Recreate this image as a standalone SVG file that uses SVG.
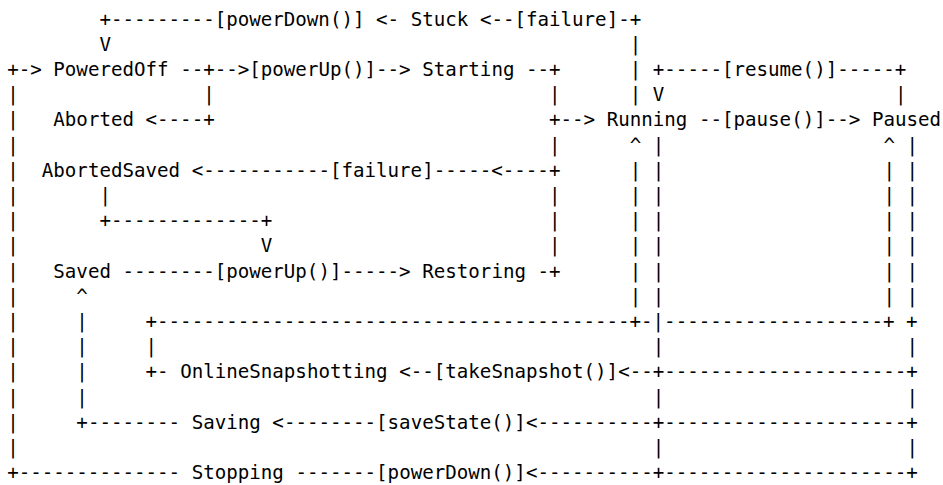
<svg xmlns="http://www.w3.org/2000/svg" width="943" height="485" viewBox="0 0 943 485">
<style>
.t{font-family:"DejaVu Sans Mono","Liberation Mono",monospace;font-size:19.15px;fill:#000;white-space:pre}
</style>
<rect width="943" height="485" fill="#fff"/>
<g id="connectors" class="t">
<text y="25.5"><tspan x="99.43">+---------[powerDown()] &lt;-</tspan><tspan x="479.89">&lt;--[failure]-+</tspan></text>
<text y="50.7"><tspan x="99.43">V</tspan><tspan x="629.77">|</tspan></text>
<text y="75.9"><tspan x="7.2">+-&gt;</tspan><tspan x="180.14">--+--&gt;[powerUp()]--&gt;</tspan><tspan x="526.01">--+</tspan><tspan x="629.77">|</tspan><tspan x="652.82">+-----[resume()]-----+</tspan></text>
<text y="101.1"><tspan x="7.2">|</tspan><tspan x="203.19">|</tspan><tspan x="549.06">|</tspan><tspan x="629.77">|</tspan><tspan x="652.82">V</tspan><tspan x="894.93">|</tspan></text>
<text y="126.3"><tspan x="7.2">|</tspan><tspan x="145.55">&lt;----+</tspan><tspan x="549.06">+--&gt;</tspan><tspan x="698.94">--[pause()]--&gt;</tspan></text>
<text y="151.5"><tspan x="7.2">|</tspan><tspan x="549.06">|</tspan><tspan x="629.77">^ |</tspan><tspan x="883.40">^ |</tspan></text>
<text y="176.7"><tspan x="7.2">|</tspan><tspan x="191.66">&lt;-----------[failure]-----&lt;----+</tspan><tspan x="629.77">| |</tspan><tspan x="883.40">| |</tspan></text>
<text y="201.9"><tspan x="7.2">|</tspan><tspan x="99.43">|</tspan><tspan x="549.06">|</tspan><tspan x="629.77">| |</tspan><tspan x="883.40">| |</tspan></text>
<text y="227.1"><tspan x="7.2">|</tspan><tspan x="99.43">+-------------+</tspan><tspan x="549.06">|</tspan><tspan x="629.77">| |</tspan><tspan x="883.40">| |</tspan></text>
<text y="252.3"><tspan x="7.2">|</tspan><tspan x="260.84">V</tspan><tspan x="549.06">|</tspan><tspan x="629.77">| |</tspan><tspan x="883.40">| |</tspan></text>
<text y="277.5"><tspan x="7.2">|</tspan><tspan x="122.49">--------[powerUp()]-----&gt;</tspan><tspan x="537.53">-+</tspan><tspan x="629.77">| |</tspan><tspan x="883.40">| |</tspan></text>
<text y="302.7"><tspan x="7.2">|</tspan><tspan x="76.37">^</tspan><tspan x="629.77">| |</tspan><tspan x="883.40">| |</tspan></text>
<text y="327.9"><tspan x="7.2">|</tspan><tspan x="76.37">|</tspan><tspan x="145.55">+-----------------------------------------+-|-------------------+ +</tspan></text>
<text y="353.1"><tspan x="7.2">|</tspan><tspan x="76.37">|</tspan><tspan x="145.55">|</tspan><tspan x="652.82">|</tspan><tspan x="906.46">|</tspan></text>
<text y="378.3"><tspan x="7.2">|</tspan><tspan x="76.37">|</tspan><tspan x="145.55">+-</tspan><tspan x="399.19">&lt;--[takeSnapshot()]&lt;--+---------------------+</tspan></text>
<text y="403.5"><tspan x="7.2">|</tspan><tspan x="76.37">|</tspan><tspan x="652.82">|</tspan><tspan x="906.46">|</tspan></text>
<text y="428.7"><tspan x="7.2">|</tspan><tspan x="76.37">+--------</tspan><tspan x="272.37">&lt;--------[saveState()]&lt;----------+---------------------+</tspan></text>
<text y="453.9"><tspan x="7.2">|</tspan><tspan x="652.82">|</tspan><tspan x="906.46">|</tspan></text>
<text y="479.1"><tspan x="7.2">+--------------</tspan><tspan x="295.43">-------[powerDown()]&lt;----------+---------------------+</tspan></text>
</g>
<g id="node-stuck" class="t"><text x="410.72" y="25.5">Stuck</text></g>
<g id="node-poweredoff" class="t"><text x="53.32" y="75.9">PoweredOff</text></g>
<g id="node-starting" class="t"><text x="422.24" y="75.9">Starting</text></g>
<g id="node-aborted" class="t"><text x="53.32" y="126.3">Aborted</text></g>
<g id="node-running" class="t"><text x="606.71" y="126.3">Running</text></g>
<g id="node-paused" class="t"><text x="871.88" y="126.3">Paused</text></g>
<g id="node-abortedsaved" class="t"><text x="41.79" y="176.7">AbortedSaved</text></g>
<g id="node-saved" class="t"><text x="53.32" y="277.5">Saved</text></g>
<g id="node-restoring" class="t"><text x="422.24" y="277.5">Restoring</text></g>
<g id="node-onlinesnapshotting" class="t"><text x="180.14" y="378.3">OnlineSnapshotting</text></g>
<g id="node-saving" class="t"><text x="191.66" y="428.7">Saving</text></g>
<g id="node-stopping" class="t"><text x="191.66" y="479.1">Stopping</text></g>
</svg>
